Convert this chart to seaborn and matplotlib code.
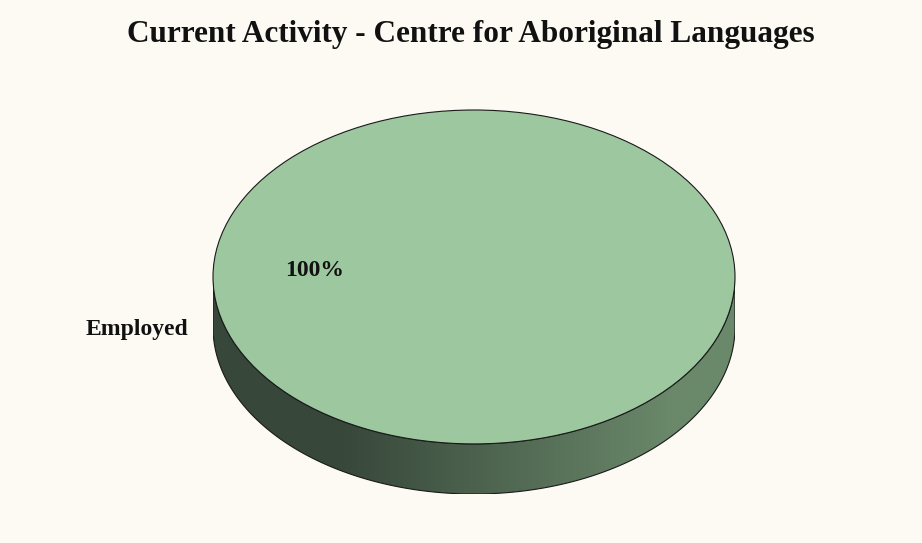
import numpy as np
import seaborn as sns
import matplotlib
matplotlib.use('Agg')
import matplotlib.pyplot as plt
from matplotlib.patches import Polygon
from matplotlib.colors import LinearSegmentedColormap

# data
categories = ["Employed"]
shares = [100]
title = "Current Activity - Centre for Aboriginal Languages"

bg = "#fdfaf4"
top_color = "#9dc79f"
side_dark = "#37473a"
side_light = "#6a886a"

sns.set_theme(style="white", rc={"figure.facecolor": bg, "axes.facecolor": bg})
plt.rcParams['font.family'] = ['Liberation Serif', 'DejaVu Serif']

fig = plt.figure(figsize=(9.22, 5.43), dpi=100)
W, H = 922, 543
# pie box in pixels: x 213..735, top 110, bottom of side 494
depth = 0.3
ax = fig.add_axes([213 / W, 1 - 494 / H, 522 / W, 384 / H])

wedges, texts, autotexts = ax.pie(shares, labels=categories, autopct='%1.0f%%',
                                  colors=[top_color], startangle=16,
                                  labeldistance=1.14, pctdistance=0.6,
                                  wedgeprops=dict(edgecolor="#1a1a1a", linewidth=0.8, zorder=3),
                                  textprops=dict(fontsize=17, fontweight='bold', color='#111111'))
ax.set_aspect('auto')
ax.set_axis_off()

# side of the disc: lower half ellipse extruded downwards
t = np.linspace(np.pi, 2 * np.pi, 200)
upper = np.column_stack([np.cos(t), np.sin(t)])
lower = np.column_stack([np.cos(t[::-1]), np.sin(t[::-1]) - depth])
side = Polygon(np.vstack([upper, lower]), closed=True, facecolor='none',
               edgecolor="#1a1a1a", linewidth=0.8, zorder=2)
ax.add_patch(side)
cmap = LinearSegmentedColormap.from_list(
    "side", [(0.0, side_dark), (0.24, side_dark), (0.88, side_light), (1.0, side_light)], N=256)
grad = np.linspace(0, 1, 256).reshape(1, -1)
img = ax.imshow(grad, cmap=cmap, extent=(-1, 1, -1 - depth, 0), aspect='auto', zorder=1)
img.set_clip_path(side)
ax.set_xlim(-1, 1)
ax.set_ylim(-1 - depth, 1)

# label positions
texts[0].set_position((-1.096, -0.317))
texts[0].set_ha('right')
texts[0].set_va('center')
texts[0].set_clip_on(False)
autotexts[0].set_position((-0.61, 0.04))
autotexts[0].set_ha('center')
autotexts[0].set_va('center')

fig.text(0.511, 1 - 42 / H, title, ha='center', va='baseline', fontsize=22.5,
         fontweight='bold', color='#111111')

fig.savefig("out.png", dpi=100, facecolor=bg)
